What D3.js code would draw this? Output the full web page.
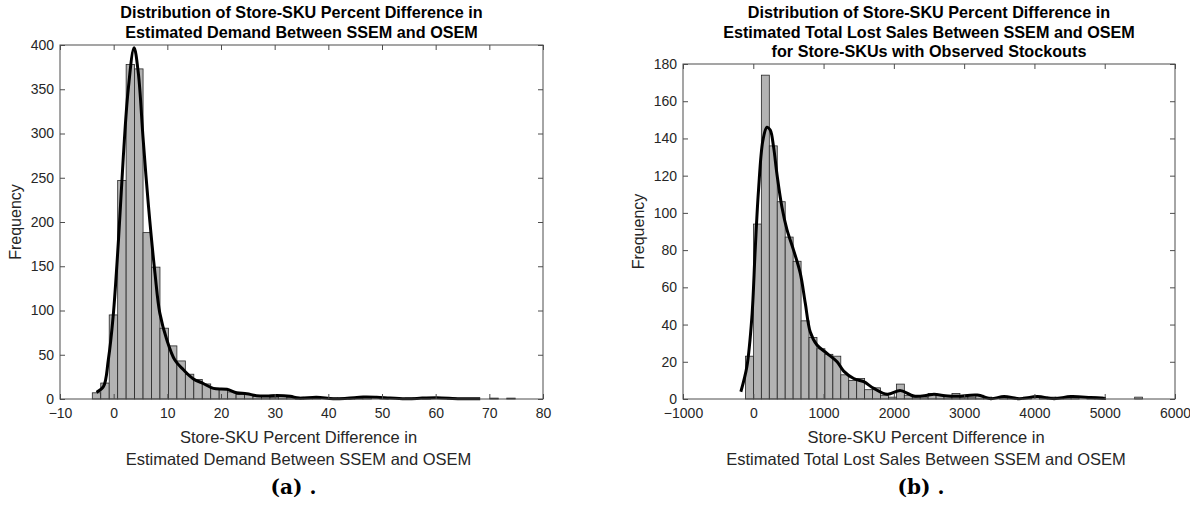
<!DOCTYPE html>
<html>
<head>
<meta charset="utf-8">
<script src="https://cdn.jsdelivr.net/npm/d3@7"></script>
<style>
  body { margin: 0; background: #fff; }
  svg { display: block; font-family: "Liberation Sans", Arial, sans-serif; }
</style>
</head>
<body>
<svg width="1190" height="506"></svg>
<script>
// ---- panel (a): demand ----
var demandBinStart = -3.98, demandBinWidth = 1.576;
var demandCounts = [7, 18, 95, 247, 378, 373, 188, 149, 80, 60,
    43, 28, 22, 17, 12, 11, 8, 5, 5, 3,
    3, 2, 3, 2, 2, 1, 1, 0, 1, 1,
    1, 1, 2, 0, 1, 0, 0, 1, 0, 1,
    0, 0, 1, 0, 0, 0, 0, 1, 0, 1];
// smoothed density curve (value, frequency)
var demandCurveX = [-3.2, -1.9, -1.0, -0.1, 0.9, 1.8, 2.7, 3.8, 4.6, 5.5,
    6.5, 7.7, 8.6, 9.9, 11.4, 13.0, 14.8, 16.7, 18.6, 21.1,
    22.9, 24.8, 26.6, 28.5, 30.4, 32.9, 34.5, 37.8, 40.9, 43.5,
    46.5, 49.0, 51.5, 54.8, 57.5, 60.2, 64.5, 68.3];
var demandCurveY = [7.5, 14, 44, 93, 180, 274, 349, 397, 368, 293,
    217, 142, 97, 67, 44, 33, 23, 17.5, 12, 11,
    7, 6, 3.8, 3.4, 4, 3, 1, 2, 0.3, 0.8,
    2.2, 2, 1.2, 0.3, 1, 1.5, 0.3, 0.2];
var demandXTicks = [-10, 0, 10, 20, 30, 40, 50, 60, 70, 80];
var demandYTicks = [0, 50, 100, 150, 200, 250, 300, 350, 400];

// ---- panel (b): lost sales ----
var lostBinStart = -111, lostBinWidth = 113;
var lostCounts = [23, 94, 174, 136, 106, 87, 74, 42, 33, 27,
    24, 23, 13, 10, 11, 5, 6, 2, 1, 8,
    2, 1, 1, 3, 2, 2, 3, 1, 1, 2,
    1, 0, 1, 1, 0, 1, 0, 1, 1, 1,
    1, 1, 0, 1, 1, 0, 0, 0, 0, 1];
var lostCurveX = [-177, -91, -20, 27, 74, 137, 194, 241, 288, 336,
    408, 479, 573, 669, 740, 811, 906, 1049, 1192, 1286,
    1429, 1571, 1714, 1905, 2095, 2285, 2475, 2570, 2760, 2903,
    3188, 3377, 3568, 3781, 4043, 4280, 4518, 4803, 5017];
var lostCurveY = [3.9, 17.4, 44, 80, 112, 139, 146, 144.5, 135.6, 121,
    103, 91, 80, 67.5, 51.4, 36, 29, 24.5, 20, 15,
    11, 9.3, 5.7, 2.5, 4.5, 1.6, 2, 2.5, 1.6, 1.5,
    2.1, 0.2, 1.3, 0.2, 1.3, 0.2, 1.3, 0.8, 0.3];
var lostXTicks = [-1000, 0, 1000, 2000, 3000, 4000, 5000, 6000];
var lostYTicks = [0, 20, 40, 60, 80, 100, 120, 140, 160, 180];

var svg = d3.select("svg");

function panel(o) {
    var x = d3.scaleLinear().domain(o.xDomain).range([o.left, o.right]);
    var y = d3.scaleLinear().domain(o.yDomain).range([o.bottom, o.top]);
    var g = svg.append("g");

    var bins = o.counts.map(function (c, i) {
        return { c: c, x0: o.binStart + i * o.binWidth };
    }).filter(function (d) { return d.c > 0; });

    // bars
    g.append("g").selectAll("rect")
        .data(bins).enter().append("rect")
        .attr("x", function (d) { return x(d.x0); })
        .attr("width", function (d) { return x(d.x0 + o.binWidth) - x(d.x0); })
        .attr("y", function (d) { return y(d.c); })
        .attr("height", function (d) { return y(0) - y(d.c); })
        .attr("fill", "#b3b3b3")
        .attr("stroke", "#262626")
        .attr("stroke-width", 0.8);

    // density curve
    var pts = o.curveX.map(function (v, i) { return [v, o.curveY[i]]; });
    g.append("path")
        .datum(pts)
        .attr("fill", "none")
        .attr("stroke", "#000")
        .attr("stroke-width", 3)
        .attr("stroke-linejoin", "round")
        .attr("d", d3.line()
            .x(function (d) { return x(d[0]); })
            .y(function (d) { return y(d[1]); })
            .curve(d3.curveCatmullRom.alpha(0.5)));

    // axes, ticks inward on all four sides
    var axisColor = "#4d4d4d";
    function style(sel, hideText) {
        sel.select(".domain").remove();
        sel.selectAll(".tick line").attr("stroke", axisColor);
        sel.selectAll(".tick text")
            .attr("fill", "#262626")
            .style("font-size", "14px")
            .style("font-family", "'Liberation Sans', Arial, sans-serif");
        if (hideText) sel.selectAll(".tick text").remove();
    }
    g.append("g").attr("transform", "translate(0," + o.bottom + ")")
        .call(d3.axisBottom(x).tickValues(o.xTicks).tickSizeInner(-5).tickPadding(9).tickFormat(d3.format("d")))
        .call(style, false);
    g.append("g").attr("transform", "translate(0," + o.top + ")")
        .call(d3.axisTop(x).tickValues(o.xTicks).tickSizeInner(-5))
        .call(style, true);
    g.append("g").attr("transform", "translate(" + o.left + ",0)")
        .call(d3.axisLeft(y).tickValues(o.yTicks).tickSizeInner(-5).tickPadding(6).tickFormat(d3.format("d")))
        .call(style, false);
    g.append("g").attr("transform", "translate(" + o.right + ",0)")
        .call(d3.axisRight(y).tickValues(o.yTicks).tickSizeInner(-5))
        .call(style, true);

    g.append("rect")
        .attr("x", o.left).attr("y", o.top)
        .attr("width", o.right - o.left).attr("height", o.bottom - o.top)
        .attr("fill", "none").attr("stroke", axisColor).attr("stroke-width", 1);

    var cx = (o.left + o.right) / 2;

    // title
    g.append("g").selectAll("text")
        .data(o.title).enter().append("text")
        .attr("x", cx)
        .attr("y", function (d, i) { return 18 + i * 19.5; })
        .attr("text-anchor", "middle")
        .style("font-size", "16.2px")
        .style("font-weight", "bold")
        .attr("fill", "#000")
        .text(function (d) { return d; });

    // x label
    g.append("g").selectAll("text")
        .data(o.xLabel).enter().append("text")
        .attr("x", cx - 3)
        .attr("y", function (d, i) { return 443 + i * 21.5; })
        .attr("text-anchor", "middle")
        .style("font-size", "16.5px")
        .attr("fill", "#262626")
        .text(function (d) { return d; });

    // y label
    g.append("text")
        .attr("transform", "translate(" + o.yLabelX + "," + ((o.top + o.bottom) / 2) + ") rotate(-90)")
        .attr("text-anchor", "middle")
        .style("font-size", "16px")
        .attr("fill", "#262626")
        .text("Frequency");

    // caption
    g.append("text")
        .attr("x", cx - 8)
        .attr("y", 494)
        .attr("text-anchor", "middle")
        .style("font-family", "'DejaVu Serif', 'Liberation Serif', serif")
        .style("font-size", "20px")
        .style("font-weight", "bold")
        .attr("fill", "#000")
        .text(o.caption);
}

panel({
    left: 60, right: 543, top: 45, bottom: 399,
    xDomain: [-10, 80], yDomain: [0, 400],
    counts: demandCounts, binStart: demandBinStart, binWidth: demandBinWidth,
    curveX: demandCurveX, curveY: demandCurveY,
    xTicks: demandXTicks, yTicks: demandYTicks,
    title: ["Distribution of Store-SKU Percent Difference in",
            "Estimated Demand Between SSEM and OSEM"],
    xLabel: ["Store-SKU Percent Difference in",
             "Estimated Demand Between SSEM and OSEM"],
    yLabelX: 21,
    caption: "(a) ."
});

panel({
    left: 683, right: 1175, top: 64, bottom: 399,
    xDomain: [-1000, 6000], yDomain: [0, 180],
    counts: lostCounts, binStart: lostBinStart, binWidth: lostBinWidth,
    curveX: lostCurveX, curveY: lostCurveY,
    xTicks: lostXTicks, yTicks: lostYTicks,
    title: ["Distribution of Store-SKU Percent Difference in",
            "Estimated Total Lost Sales Between SSEM and OSEM",
            "for Store-SKUs with Observed Stockouts"],
    xLabel: ["Store-SKU Percent Difference in",
             "Estimated Total Lost Sales Between SSEM and OSEM"],
    yLabelX: 644,
    caption: "(b) ."
});
</script>
</body>
</html>
